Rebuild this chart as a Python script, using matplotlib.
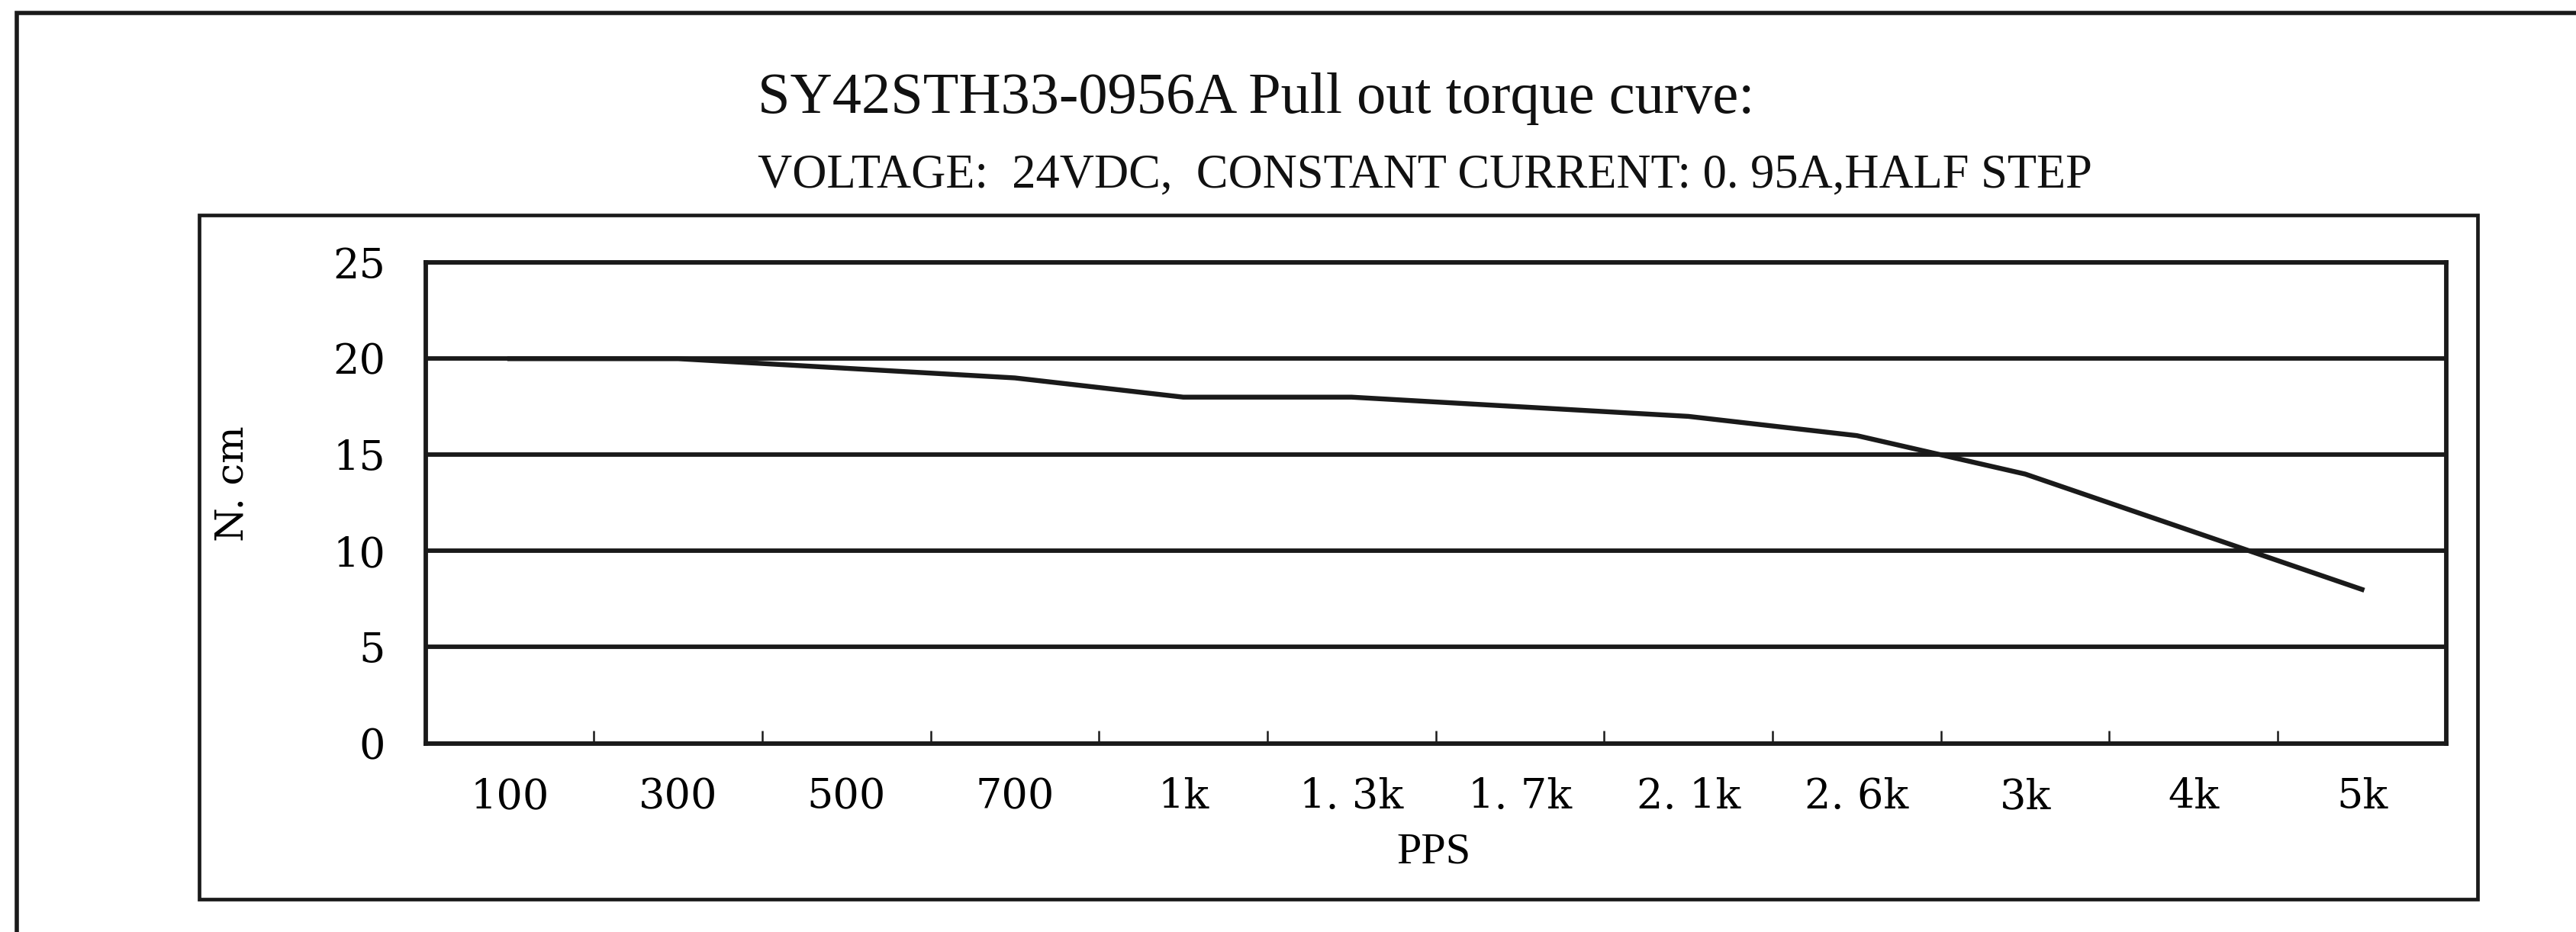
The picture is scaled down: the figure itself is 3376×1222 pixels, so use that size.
import numpy as np
import matplotlib
matplotlib.use("Agg")
import matplotlib.pyplot as plt
from matplotlib.patches import Rectangle

# pull out torque curve data
speed_labels = ["100", "300", "500", "700", "1k", "1. 3k", "1. 7k",
                "2. 1k", "2. 6k", "3k", "4k", "5k"]
torque = [20, 20, 19.5, 19, 18, 18, 17.5, 17, 16, 14, 11, 8]
y_ticks = [0, 5, 10, 15, 20, 25]

title1 = "SY42STH33-0956A Pull out torque curve:"
title2 = "VOLTAGE:  24VDC,  CONSTANT CURRENT: 0. 95A,HALF STEP"

narrow = ["Liberation Serif", "DejaVu Serif"]
serif = ["DejaVu Serif"]

fig = plt.figure(figsize=(33.76, 12.22), dpi=100)
ax = fig.add_axes([0.1652, 0.2025, 0.7844, 0.5158])

x = np.arange(len(torque))
ax.plot(x, torque, color="#1a1a1a", lw=4.6, solid_joinstyle="miter")

ax.set_xlim(-0.5, len(torque) - 0.5)
ax.set_ylim(0, 25)
ax.set_yticks(y_ticks)
ax.set_yticklabels([str(v) for v in y_ticks], family=serif, fontsize=39)
ax.set_xticks(x)
ax.set_xticklabels(speed_labels, family=serif, fontsize=39)
ax.set_xticks(x[:-1] + 0.5, minor=True)

ax.tick_params(axis="y", length=0, pad=38)
ax.tick_params(axis="x", which="major", length=0, pad=32)
ax.tick_params(axis="x", which="minor", direction="in", length=12, width=1.8, color="#1a1a1a")

ax.grid(axis="y", color="#1a1a1a", lw=4.2)
ax.set_axisbelow(True)
for s in ax.spines.values():
    s.set_linewidth(4.2)
    s.set_color("#1a1a1a")

ax.set_xlabel("PPS", family=narrow, fontsize=42)
ax.xaxis.set_label_coords(0.499, -0.185)
ax.set_ylabel("N. cm", family=serif, fontsize=37)
ax.yaxis.set_label_coords(-0.086, 0.54)

# the original title font is very condensed; compromise between width and height
fig.text(0.294, 0.879, title1, family=narrow, fontsize=55, va="baseline", ha="left", color="#111111")
fig.text(0.294, 0.799, title2, family=narrow, fontsize=45, va="baseline", ha="left", color="#111111")

# chart area box and outer frame
fig.patches.append(Rectangle((0.0772, 0.0352), 0.8845, 0.7342, transform=fig.transFigure,
                             fill=False, lw=3.4, ec="#1a1a1a"))
fig.patches.append(Rectangle((0.0064, -0.2), 1.3, 1.1859, transform=fig.transFigure,
                             fill=False, lw=4.0, ec="#1a1a1a", clip_on=False))

fig.savefig("out.png", dpi=100, facecolor="white")
